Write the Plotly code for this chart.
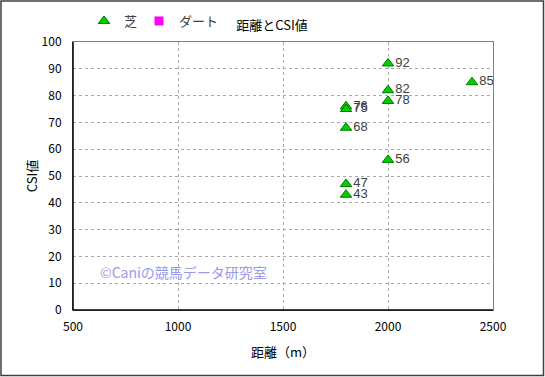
import plotly.graph_objects as go

turf_dist = [1800, 1800, 1800, 1800, 1800, 2000, 2000, 2000, 2000, 2400]
turf_csi = [76, 75, 68, 47, 43, 92, 82, 78, 56, 85]
dirt_dist = []
dirt_csi = []

x_ticks = [500, 1000, 1500, 2000, 2500]
y_ticks = [0, 10, 20, 30, 40, 50, 60, 70, 80, 90, 100]

FONT = "Noto Sans CJK JP, Liberation Sans, sans-serif"
NUMFONT = "Liberation Sans, Arial, sans-serif"

fig = go.Figure()
fig.add_trace(go.Scatter(
    x=turf_dist, y=turf_csi, mode="markers+text", name="芝",
    text=[str(v) for v in turf_csi], textposition="middle right",
    textfont=dict(size=13, color="#404040", family=NUMFONT),
    marker=dict(symbol="triangle-up", size=10, color="#00d000",
                line=dict(color="#007700", width=1)),
    cliponaxis=False, legend="legend",
))
fig.add_trace(go.Scatter(
    x=dirt_dist if dirt_dist else [None], y=dirt_csi if dirt_csi else [None],
    mode="markers", name="ダート",
    marker=dict(symbol="square", size=9, color="#ff00ff"),
    legend="legend2",
))

L, R, T, B = 73, 52, 42, 67
W, H = 545, 377
pw, ph = W - L - R, H - T - B

fig.add_annotation(
    x=620, y=14, xref="x", yref="y", text="©Caniの競馬データ研究室",
    showarrow=False, xanchor="left", yanchor="middle",
    font=dict(size=14, color="#9999ee", family=FONT),
)
fig.add_shape(
    type="rect", xref="paper", yref="paper",
    x0=(1 - L) / pw, x1=(W - 1.5 - L) / pw,
    y0=-(H - 1.5 - T - ph) / ph, y1=1 + (T - 1) / ph,
    line=dict(color="#404040", width=1.5), fillcolor="rgba(0,0,0,0)",
)

leg_common = dict(orientation="h", xanchor="left", yanchor="middle",
                  y=1 + (T - 21) / ph,
                  font=dict(size=13, color="#404040", family=FONT),
                  itemwidth=30, bgcolor="rgba(0,0,0,0)")

fig.update_layout(
    width=W, height=H,
    margin=dict(l=L, r=R, t=T, b=B, autoexpand=False),
    paper_bgcolor="white", plot_bgcolor="white",
    font=dict(family=FONT, size=12, color="#000000"),
    title=dict(text="距離とCSI値", x=272 / W, xanchor="center",
               y=1 - 25 / H, yanchor="middle",
               font=dict(size=13, color="#000000", family=FONT)),
    showlegend=True,
    legend=dict(x=(84 - L) / pw, **leg_common),
    legend2=dict(x=(139 - L) / pw, **leg_common),
    xaxis=dict(range=[500, 2500], tickvals=x_ticks, ticks="", showgrid=True,
               gridcolor="#aaaaaa", griddash="dot", gridwidth=1,
               showline=True, linecolor="#808080", mirror=True, zeroline=False,
               ticklabelstandoff=6, automargin=False,
               title=dict(text="距離（m）", font=dict(size=13, family=FONT), standoff=14),
               tickfont=dict(size=12, family=FONT)),
    yaxis=dict(range=[0, 100], tickvals=y_ticks, ticks="", showgrid=True,
               gridcolor="#aaaaaa", griddash="dot", gridwidth=1,
               showline=True, linecolor="#808080", mirror=True, zeroline=False,
               ticklabelstandoff=8, automargin=False,
               title=dict(text="CSI値", font=dict(size=13, family=FONT), standoff=1),
               tickfont=dict(size=12, family=FONT)),
)
# black left/bottom axis lines
fig.add_shape(type="line", xref="paper", yref="paper", x0=0, x1=1, y0=0, y1=0,
              line=dict(color="#000000", width=1.5))
fig.add_shape(type="line", xref="paper", yref="paper", x0=0, x1=0, y0=0, y1=1,
              line=dict(color="#000000", width=1.5))

fig.write_html("out.html", config={"displayModeBar": False},
               post_script="document.body.style.margin='0';document.body.style.overflow='hidden';")
